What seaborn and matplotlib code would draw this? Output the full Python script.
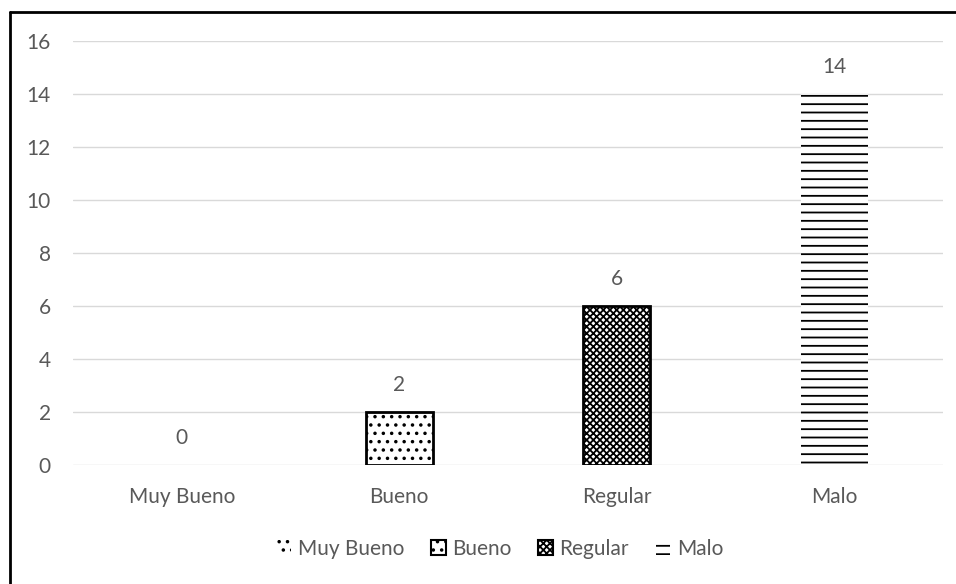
import matplotlib
matplotlib.use("Agg")
import matplotlib.pyplot as plt
from matplotlib.patches import Patch
from matplotlib.lines import Line2D
import seaborn as sns
import pandas as pd

# Valoración de la encuesta
categorias = ["Muy Bueno", "Bueno", "Regular", "Malo"]
valores = [0, 2, 6, 14]
tramas = ["..", "..", "xxxxx", "--"]
con_borde = [False, True, True, False]
y_ticks = [0, 2, 4, 6, 8, 10, 12, 14, 16]

sns.set_theme(style="white")
plt.rcParams["font.family"] = ["Lato", "DejaVu Sans"]
plt.rcParams["hatch.linewidth"] = 1.3
gris = "#595959"
fs = 15

df = pd.DataFrame({"categoria": categorias, "valor": valores})

fig = plt.figure(figsize=(9.56, 5.84), dpi=100)
ax = fig.add_axes([0.0764, 0.2038, 0.91, 0.726])

sns.barplot(data=df, x="categoria", y="valor", hue="categoria",
            palette=["white"] * 4, width=0.31, legend=False, ax=ax,
            edgecolor="black", linewidth=2, saturation=1)

for bar, trama, borde in zip(ax.patches, tramas, con_borde):
    bar.set_hatch(trama)
    bar.set_edgecolor("black")
    bar.set_linewidth(2 if borde else 0)

for bar, v in zip(ax.patches, valores):
    ax.annotate(f"{v}", (bar.get_x() + bar.get_width() / 2, v),
                xytext=(0, 12), textcoords="offset points",
                ha="center", va="bottom", fontsize=fs, color=gris)

ax.set_ylim(0, 16)
ax.set_yticks(y_ticks)
ax.set_xlim(-0.5, 3.5)
ax.yaxis.grid(True, color="#d9d9d9", linewidth=1)
ax.set_axisbelow(True)
for s in ax.spines.values():
    s.set_visible(False)
ax.tick_params(axis="y", length=0, pad=16, labelsize=fs, labelcolor=gris)
ax.tick_params(axis="x", length=0, pad=16, labelsize=fs, labelcolor=gris)
ax.set_xlabel("")
ax.set_ylabel("")

handles = [Patch(facecolor="white", edgecolor="black", hatch=t,
                 linewidth=(1.5 if b else 0), label=c)
           for c, t, b in zip(categorias, tramas, con_borde)]
leg = fig.legend(handles=handles, loc="center", bbox_to_anchor=(0.523, 0.06),
                 ncol=4, frameon=False, fontsize=fs, handlelength=0.7,
                 handleheight=0.7, handletextpad=0.3, columnspacing=1.3)
for t in leg.get_texts():
    t.set_color(gris)

# Marco exterior (lados superior e izquierdo)
fig.add_artist(Line2D([10 / 956, 10 / 956], [0, 1 - 12 / 584],
                      transform=fig.transFigure, color="black", linewidth=2))
fig.add_artist(Line2D([10 / 956, 1], [1 - 12 / 584, 1 - 12 / 584],
                      transform=fig.transFigure, color="black", linewidth=2))

fig.savefig("out.png", dpi=100)
